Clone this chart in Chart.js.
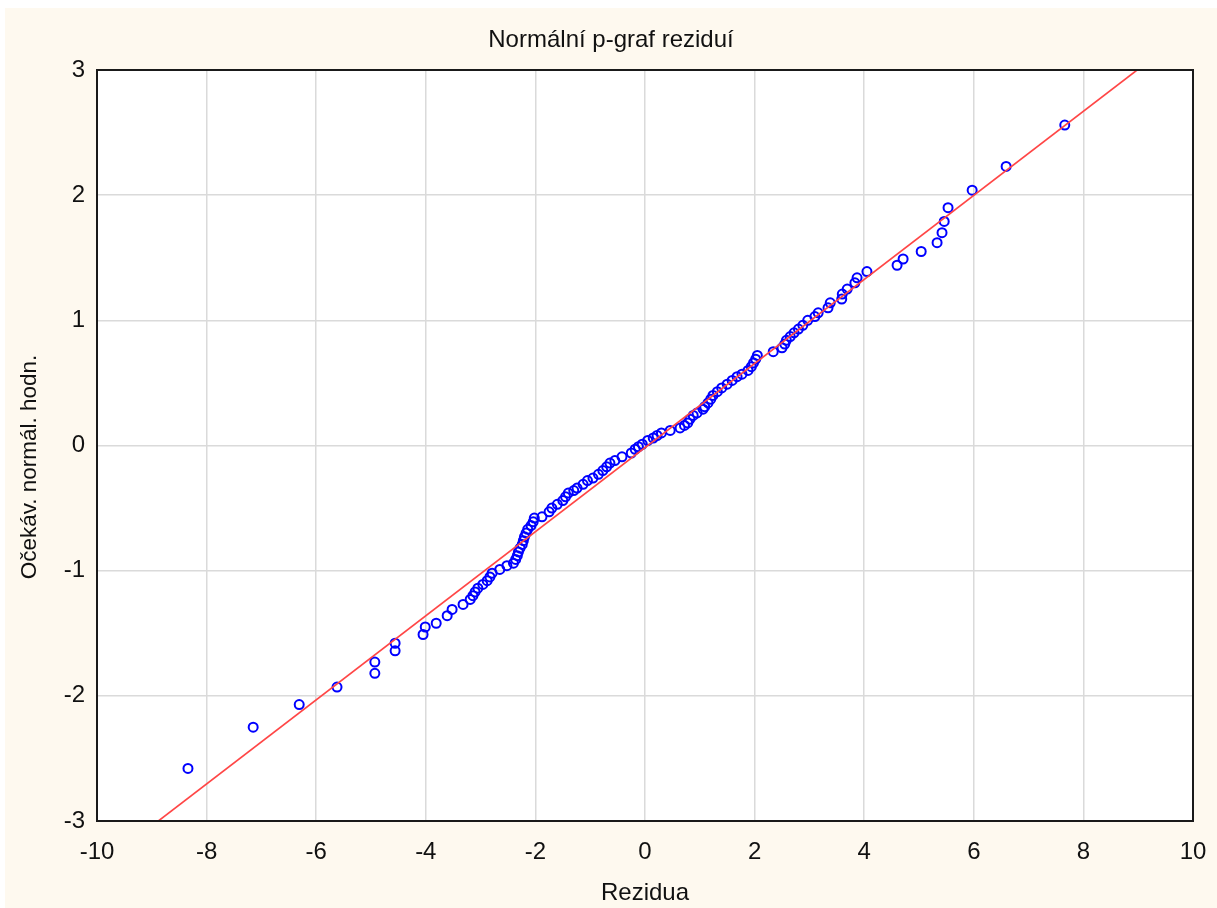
<!DOCTYPE html>
<html>
<head>
<meta charset="utf-8">
<title>Normální p-graf reziduí</title>
<script src="https://cdn.jsdelivr.net/npm/chart.js@4.4.0/dist/chart.umd.min.js"></script>
<style>
  html, body { margin: 0; padding: 0; background: #fff; }
  #wrap { position: absolute; left: 5px; top: 8px; width: 1212px; height: 900px; background: #fef9ef; }
</style>
</head>
<body>
<div id="wrap"><canvas id="chart"></canvas></div>
<script>
// ── Data ───────────────────────────────────────────────────────────────────────
const resid = [
  -8.34, -7.15, -6.31, -5.62, -4.93, -4.93, -4.56, -4.56, -4.05, -4.01,
  -3.81, -3.61, -3.52, -3.32, -3.19, -3.14, -3.10, -3.05, -2.96, -2.88,
  -2.83, -2.79, -2.65, -2.52, -2.40, -2.36, -2.33, -2.31, -2.28, -2.24,
  -2.22, -2.20, -2.17, -2.14, -2.08, -2.04, -2.02, -1.88, -1.75, -1.70,
  -1.60, -1.50, -1.45, -1.40, -1.30, -1.24, -1.13, -1.05, -0.95, -0.85,
  -0.77, -0.70, -0.64, -0.55, -0.42, -0.25, -0.18, -0.12, -0.05, 0.05,
  0.15, 0.22, 0.30, 0.46, 0.64, 0.72, 0.78, 0.82, 0.88, 0.95,
  1.06, 1.09, 1.15, 1.20, 1.24, 1.32, 1.40, 1.50, 1.59, 1.68,
  1.77, 1.88, 1.94, 1.98, 2.02, 2.05, 2.34, 2.50, 2.55, 2.58,
  2.65, 2.72, 2.80, 2.88, 2.97, 3.10, 3.16, 3.34, 3.38, 3.59,
  3.60, 3.69, 3.83, 3.87, 4.05, 4.60, 4.71, 5.04, 5.33, 5.42,
  5.46, 5.53, 5.97, 6.59, 7.66
];
const expNorm = [
  -2.58, -2.25, -2.07, -1.93, -1.82, -1.73, -1.64, -1.58, -1.51, -1.45,
  -1.42, -1.36, -1.31, -1.27, -1.23, -1.20, -1.17, -1.14, -1.11, -1.08,
  -1.05, -1.02, -0.99, -0.96, -0.94, -0.91, -0.88, -0.85, -0.82, -0.79,
  -0.76, -0.73, -0.70, -0.67, -0.64, -0.61, -0.58, -0.57, -0.53, -0.50,
  -0.47, -0.44, -0.41, -0.38, -0.36, -0.34, -0.31, -0.28, -0.26, -0.23,
  -0.20, -0.17, -0.14, -0.12, -0.09, -0.06, -0.03, -0.01, 0.01, 0.04,
  0.06, 0.08, 0.10, 0.12, 0.14, 0.16, 0.18, 0.21, 0.24, 0.26,
  0.29, 0.31, 0.34, 0.37, 0.40, 0.43, 0.46, 0.49, 0.52, 0.55,
  0.57, 0.60, 0.63, 0.66, 0.69, 0.72, 0.75, 0.78, 0.81, 0.84,
  0.87, 0.90, 0.93, 0.96, 1.00, 1.03, 1.06, 1.10, 1.14, 1.17,
  1.21, 1.25, 1.30, 1.34, 1.39, 1.44, 1.49, 1.55, 1.62, 1.70,
  1.79, 1.90, 2.04, 2.23, 2.56
];
// reference line end points
const lineX = [-8.88, 8.98];
const lineY = [-3, 3];

const xTicks = [-10, -8, -6, -4, -2, 0, 2, 4, 6, 8, 10];
const yTicks = [-3, -2, -1, 0, 1, 2, 3];

// ── Helpers ───────────────────────────────────────────────────────────────────
const FONT = 'Liberation Sans, Arial, sans-serif';
const pts = resid.map((x, i) => ({ x: x, y: expNorm[i] }));
const linePts = lineX.map((x, i) => ({ x: x, y: lineY[i] }));

const plotFrame = {
  id: 'plotFrame',
  beforeDraw(chart) {
    const a = chart.chartArea, ctx = chart.ctx;
    ctx.save();
    ctx.fillStyle = '#ffffff';
    ctx.fillRect(a.left, a.top, a.right - a.left, a.bottom - a.top);
    ctx.restore();
  },
  afterDraw(chart) {
    const a = chart.chartArea, ctx = chart.ctx;
    ctx.save();
    ctx.strokeStyle = '#1a1a1a';
    ctx.lineWidth = 2;
    ctx.strokeRect(a.left, a.top, a.right - a.left, a.bottom - a.top);
    // y axis title, sits a little below the plot centre as in the original
    ctx.translate(25, 459);
    ctx.rotate(-Math.PI / 2);
    ctx.fillStyle = '#111';
    ctx.font = '22.5px ' + FONT;
    ctx.textAlign = 'center';
    ctx.textBaseline = 'middle';
    ctx.fillText('Očekáv. normál. hodn.', 0, 0);
    ctx.restore();
  }
};

// ── Chart ─────────────────────────────────────────────────────────────────────
new Chart(document.getElementById('chart'), {
  type: 'scatter',
  data: {
    datasets: [
      { type: 'line', data: linePts, borderColor: 'rgb(255,70,70)', borderWidth: 1.6,
        pointRadius: 0, fill: false, tension: 0 },
      { data: pts, pointStyle: 'circle', pointRadius: 4.5, borderWidth: 2,
        borderColor: '#0000ff', backgroundColor: 'rgba(0,0,0,0)' }
    ]
  },
  options: {
    responsive: true, maintainAspectRatio: false, animation: false,
    layout: { padding: 0 },
    plugins: {
      legend: { display: false },
      tooltip: { enabled: false },
      title: {
        display: true, text: 'Normální p-graf reziduí', color: '#111',
        font: { family: FONT, size: 24, weight: 'normal' },
        padding: { top: 17.6, bottom: 15.6 }
      }
    },
    scales: {
      x: {
        type: 'linear', min: -10, max: 10,
        afterBuildTicks: s => { s.ticks = xTicks.map(v => ({ value: v })); },
        afterFit: s => { s.height = 87; s.paddingLeft = 0; s.paddingRight = 24; },
        ticks: { color: '#111', padding: 17, font: { family: FONT, size: 24 } },
        grid: { color: 'rgb(218,218,218)', lineWidth: 1.5, drawTicks: false },
        border: { display: false },
        title: { display: true, text: 'Rezidua', color: '#111',
                 font: { family: FONT, size: 24 }, padding: { top: 0, bottom: 0.6 } }
      },
      y: {
        type: 'linear', min: -3, max: 3,
        afterBuildTicks: s => { s.ticks = yTicks.map(v => ({ value: v })); },
        afterFit: s => { s.width = 92; },
        ticks: { color: '#111', padding: 12, font: { family: FONT, size: 24 } },
        grid: { color: 'rgb(218,218,218)', lineWidth: 1.5, drawTicks: false },
        border: { display: false }
      }
    }
  },
  plugins: [plotFrame]
});
</script>
</body>
</html>
